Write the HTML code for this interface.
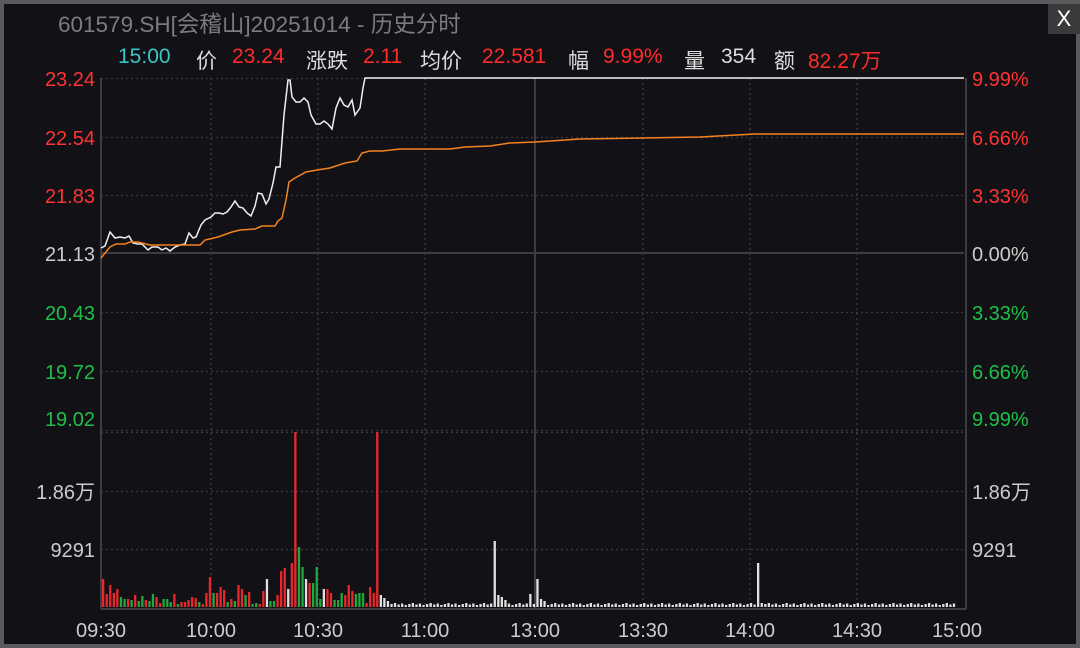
<!DOCTYPE html>
<html><head><meta charset="utf-8">
<style>
html,body{margin:0;padding:0;background:#5a5a5c;}
#w{position:absolute;left:4px;top:4px;width:1072px;height:640px;background:#121216;overflow:hidden;}
.t{position:absolute;font-family:"Liberation Sans","Noto Sans CJK SC",sans-serif;white-space:nowrap;}
.h{position:absolute;top:45px;font-size:21px;font-family:"Liberation Sans","Noto Sans CJK SC",sans-serif;white-space:nowrap;color:#ddd;}
.r{color:#ff2b2b}
</style></head><body>
<div id="w"></div>
<div class="t" style="left:58px;top:7px;font-size:22.5px;color:#7c7c80;">601579.SH[会稽山]20251014 - 历史分时</div>
<div class="t" style="left:1048px;top:4px;width:32px;height:30px;background:#3a3a3c;color:#fff;font-size:22px;text-align:center;line-height:30px;">X</div>
<span class="h" style="left:118px;color:#39c6c6">15:00</span>
<span class="h" style="left:196px">价</span><span class="h r" style="left:232px">23.24</span>
<span class="h" style="left:306px">涨跌</span><span class="h r" style="left:363px">2.11</span>
<span class="h" style="left:420px">均价</span><span class="h r" style="left:482px">22.581</span>
<span class="h" style="left:568px">幅</span><span class="h r" style="left:603px">9.99%</span>
<span class="h" style="left:684px">量</span><span class="h" style="left:721px">354</span>
<span class="h" style="left:774px">额</span><span class="h r" style="left:808px">82.27万</span>
<svg style="position:absolute;left:0;top:0" width="1080" height="648" id="s">
<g stroke="#3a3a40" stroke-width="1.3" stroke-dasharray="2,3" fill="none">
<line x1="101" x2="964" y1="78.5" y2="78.5"/><line x1="101" x2="964" y1="137.5" y2="137.5"/><line x1="101" x2="964" y1="195.5" y2="195.5"/>
<line x1="101" x2="964" y1="312.5" y2="312.5"/><line x1="101" x2="964" y1="371.5" y2="371.5"/><line x1="101" x2="964" y1="430.5" y2="430.5"/>
<line x1="101" x2="964" y1="432.5" y2="432.5"/><line x1="101" x2="964" y1="491.5" y2="491.5"/><line x1="101" x2="964" y1="549.5" y2="549.5"/>
<line x1="211" x2="211" y1="78" y2="608"/><line x1="318" x2="318" y1="78" y2="608"/><line x1="425" x2="425" y1="78" y2="608"/>
<line x1="643" x2="643" y1="78" y2="608"/><line x1="750" x2="750" y1="78" y2="608"/><line x1="857" x2="857" y1="78" y2="608"/>
</g>
<g stroke="#3c3c42" stroke-width="2" fill="none">
<line x1="101" x2="964" y1="253" y2="253"/><line x1="535" x2="535" y1="78" y2="608"/>
<line x1="101" x2="101" y1="78" y2="609"/><line x1="966" x2="966" y1="78" y2="609"/><line x1="101" x2="966" y1="609" y2="609"/>
</g>
<polyline fill="none" stroke="#f0f0f0" stroke-width="1.5" points="101,248 105,246 110,232 115,238 120,237 125,238 129,236 133,243 138,244 142,244 148,250 152,247 158,247 162,250 166,248 170,251 175,247 180,245 185,244 189,233 193,238 196,237 201,225 205,220 211,217 215,213 219,213 223,214 227,212 231,207 235,201 239,207 243,208 247,213 251,216 255,206 258,193 262,194 266,204 269,199 273,183 276,167 280,167 284,115 288,80 290,80 292,97 296,102 300,102 304,98 308,102 311,115 316,124 320,124 324,121 328,124 332,129 336,108 340,98 344,105 348,107 352,100 355,115 360,108 363,88 365,78 964,78"/>
<polyline fill="none" stroke="#f5821f" stroke-width="1.5" points="101,258 110,247 116,244 125,244 130,242 138,242 150,245 200,245 205,240 218,237 232,232 240,230 255,229 262,226 275,226 278,221 282,218 286,200 289,182 295,178 306,172 317,170 330,168 345,163 357,161 362,153 370,151 382,151 400,149 450,149 465,147 490,146 510,143 535,142 580,139 700,137 755,134 964,134"/>
<g id="v"></g>
<g font-family="Liberation Sans,sans-serif" font-size="20">
<g text-anchor="end">
<text x="95" y="86" fill="#ff3333">23.24</text><text x="95" y="145" fill="#ff3333">22.54</text><text x="95" y="203" fill="#ff3333">21.83</text>
<text x="95" y="261" fill="#ccc">21.13</text><text x="95" y="320" fill="#1fbf4a">20.43</text><text x="95" y="379" fill="#1fbf4a">19.72</text><text x="95" y="426" fill="#1fbf4a">19.02</text>
<text x="95" y="499" fill="#ccc" font-family="Liberation Sans,Noto Sans CJK SC,sans-serif">1.86万</text><text x="95" y="557" fill="#ccc">9291</text>
</g>
<text x="972" y="86" fill="#ff3333">9.99%</text><text x="972" y="145" fill="#ff3333">6.66%</text><text x="972" y="203" fill="#ff3333">3.33%</text>
<text x="972" y="261" fill="#ccc">0.00%</text><text x="972" y="320" fill="#1fbf4a">3.33%</text><text x="972" y="379" fill="#1fbf4a">6.66%</text><text x="972" y="426" fill="#1fbf4a">9.99%</text>
<text x="972" y="499" fill="#ccc" font-family="Liberation Sans,Noto Sans CJK SC,sans-serif">1.86万</text><text x="972" y="557" fill="#ccc">9291</text>
<g fill="#ccc" text-anchor="middle" font-size="20">
<text x="101" y="637">09:30</text><text x="211" y="637">10:00</text><text x="318" y="637">10:30</text><text x="425" y="637">11:00</text>
<text x="535" y="637">13:00</text><text x="643" y="637">13:30</text><text x="750" y="637">14:00</text><text x="857" y="637">14:30</text><text x="957" y="637">15:00</text>
</g></g>
</svg>
<script>
var R="#e8262c",G="#1fa83c",W="#e0e0e0";
var early=[[28,R],[13,R],[22,R],[14,R],[18,R],[10,G],[8,G],[8,R],[7,G],[12,R],[6,G],[11,G],[7,R],[6,G],[13,G],[10,R],[4,R],[8,G],[8,G],[5,G],[13,R],[3,G],[5,R],[5,R],[7,R],[10,R],[9,R],[5,G],[3,R],[14,R],[30,R],[14,G],[14,R],[20,R],[17,R],[5,G],[8,R],[6,G],[22,R],[18,R],[12,G],[15,R],[3,G],[4,G],[3,R],[16,R],[28,W],[6,G],[6,G],[12,R],[36,R],[39,R],[18,W],[44,R],[175,R],[60,G],[40,G],[28,W],[24,R],[24,G],[40,G],[8,G],[18,W],[18,R],[14,R],[7,G],[7,G],[14,G],[12,R],[22,R],[16,R],[13,G],[14,G],[14,G],[4,R],[20,R],[14,R],[175,R]];
var s="",x0=102,dx=3.56;
for(var i=0;i<240;i++){var h,c;if(i<early.length){h=early[i][0];c=early[i][1];}else{c=W;h=2+((i*7)%5)/2;
if(i==78)h=12;if(i==79)h=9;if(i==80)h=6;if(i==110)h=66;if(i==111)h=12;if(i==112)h=10;if(i==113)h=7;if(i==120)h=13;if(i==122)h=28;if(i==123)h=8;if(i==124)h=6;if(i==184)h=44;if(i==185)h=4;}
s+='<rect x="'+(x0+i*dx).toFixed(1)+'" y="'+(607-h)+'" width="2.3" height="'+h+'" fill="'+c+'"/>';}
document.getElementById("v").innerHTML=s;
</script>
</body></html>
